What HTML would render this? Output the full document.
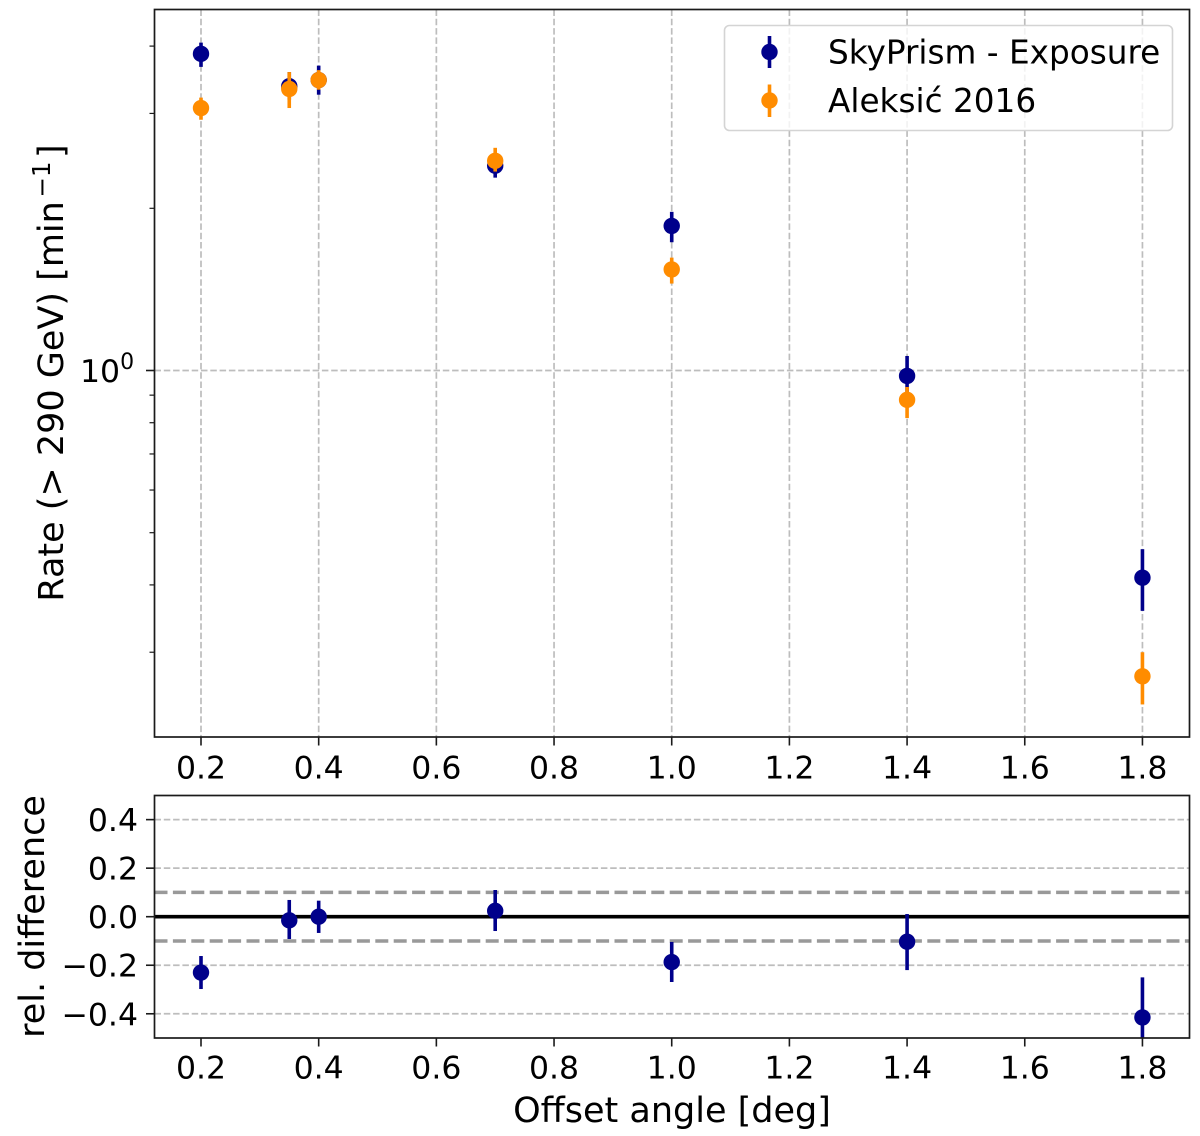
<!DOCTYPE html>
<html lang="en">
<head>
<meta charset="utf-8">
<title>Rate vs offset angle</title>
<style>
  html, body { margin: 0; padding: 0; background: #fff; }
  svg { display: block; }
  text { font-family: "DejaVu Sans", "Liberation Sans", sans-serif; fill: #000; }
  .tick-label { font-size: 31.5px; }
  .axis-title { font-size: 35px; }
  .legend-text { font-size: 32.7px; }
</style>
</head>
<body>
<svg id="chart" xmlns="http://www.w3.org/2000/svg" width="1200" height="1136" viewBox="0 0 1200 1136">
  <defs>
    <clipPath id="clip-main"><rect x="154.5" y="9.5" width="1035" height="727.5"></rect></clipPath>
    <clipPath id="clip-rel"><rect x="154.5" y="795.5" width="1035" height="242.5"></rect></clipPath>
  </defs>
  <g id="main-grid"></g>
  <g id="rel-grid"></g>
  <g id="main-marks" clip-path="url(#clip-main)"></g>
  <g id="rel-marks" clip-path="url(#clip-rel)"></g>
  <g id="ticks"></g>
  <rect x="154.5" y="9.5" width="1035" height="727.5" fill="none" stroke="#1a1a1a" stroke-width="1.7"></rect>
  <rect x="154.5" y="795.5" width="1035" height="242.5" fill="none" stroke="#1a1a1a" stroke-width="1.7"></rect>

  <g>
    <rect x="724.5" y="25.5" width="448" height="105" rx="5" ry="5" fill="#fff" fill-opacity="0.8" stroke="#d4d4d4" stroke-width="1.6"></rect>
    <g>
      <line x1="769.5" x2="769.5" y1="36" y2="68" stroke="#00008b" stroke-width="3.6"></line>
      <circle cx="769.5" cy="52" r="8.2" fill="#00008b"></circle>
      <text class="legend-text" x="828" y="63.5">SkyPrism - Exposure</text>
    </g>
    <g>
      <line x1="769.5" x2="769.5" y1="84.5" y2="117" stroke="#ff8c00" stroke-width="3.6"></line>
      <circle cx="769.5" cy="100.5" r="8.2" fill="#ff8c00"></circle>
      <text class="legend-text" x="828" y="112">Aleksić 2016</text>
    </g>
  </g>

  <text class="axis-title" text-anchor="middle" transform="translate(63,373) rotate(-90)">Rate (&gt; 290 GeV) [min<tspan dx="3.5" dy="-13" font-size="24.5">−1</tspan><tspan dx="3.5" dy="13">]</tspan></text>
  <text class="axis-title" text-anchor="middle" transform="translate(44,916.5) rotate(-90)">rel. difference</text>
  <text class="axis-title" text-anchor="middle" x="672" y="1122">Offset angle [deg]</text>
</svg>

<script>
// ---- data ----
const offsets = [0.2, 0.35, 0.4, 0.7, 1.0, 1.4, 1.8];
const skyRate = [3.87, 3.37, 3.46, 2.40, 1.855, 0.977, 0.4125];
const skyLow  = [3.66, 3.18, 3.25, 2.28, 1.73, 0.90, 0.358];
const skyHigh = [4.06, 3.58, 3.68, 2.52, 1.97, 1.064, 0.466];
const aleRate = [3.07, 3.33, 3.46, 2.45, 1.54, 0.882, 0.2707];
const aleLow  = [2.92, 3.07, 3.32, 2.34, 1.45, 0.816, 0.240];
const aleHigh = [3.21, 3.58, 3.61, 2.59, 1.62, 0.932, 0.300];
const relDiff = [-0.23, -0.015, 0.0, 0.024, -0.187, -0.103, -0.415];
const relLow  = [-0.298, -0.092, -0.067, -0.059, -0.269, -0.22, -0.60];
const relHigh = [-0.162, 0.069, 0.066, 0.11, -0.104, 0.011, -0.25];
const xTicks = [0.2, 0.4, 0.6, 0.8, 1.0, 1.2, 1.4, 1.6, 1.8];
const mainMinorTicks = [0.3, 0.4, 0.5, 0.6, 0.7, 0.8, 0.9, 2, 3, 4];
const relTicks = [0.4, 0.2, 0.0, -0.2, -0.4];
const relRefLines = [0.1, -0.1];

// ---- axis functions ----
const xScale = v => 201 + (v - 0.2) * 588.4;
const yMain = v => 370.5 - Math.log10(v) * 538.8;
const yRel = v => 916.7 - v * 242.7;

const NS = 'http://www.w3.org/2000/svg';
function make(tag, attrs, parent) {
  const n = document.createElementNS(NS, tag);
  for (const k in attrs) n.setAttribute(k, attrs[k]);
  parent.appendChild(n);
  return n;
}
const mainGrid = document.getElementById('main-grid');
const relGrid = document.getElementById('rel-grid');
const mainMarks = document.getElementById('main-marks');
const relMarks = document.getElementById('rel-marks');
const ticks = document.getElementById('ticks');
const GRID = { stroke: '#bdbdbd', 'stroke-width': 1.7, 'stroke-dasharray': '6.5 2.8' };

// grid + x ticks
xTicks.forEach(t => {
  const x = xScale(t);
  const g = make('line', Object.assign({ x1: x, x2: x, y1: 9.5, y2: 737 }, GRID), mainGrid);
  
  
  [[737, 778.5], [1038, 1078.5]].forEach(pair => {
    const tk = make('line', { x1: x, x2: x, y1: pair[0], y2: pair[0] + 8.5, stroke: '#1a1a1a', 'stroke-width': 1.6 }, ticks);
    
    
    const lb = make('text', { class: 'tick-label', x: x, y: pair[1], 'text-anchor': 'middle' }, ticks);
    
    
    lb.textContent = t.toFixed(1);
  });
});

// main y: major tick at 1
const majorY = yMain(1);
const majorGrid = make('line', Object.assign({ x1: 154.5, x2: 1189.5, y1: majorY, y2: majorY }, GRID), mainGrid);


const majorTick = make('line', { x1: 146, x2: 154.5, y1: majorY, y2: majorY, stroke: '#1a1a1a', 'stroke-width': 1.6 }, ticks);


const majorLabel = make('text', { class: 'tick-label', x: 80, y: majorY + 11.5 }, ticks);


majorLabel.textContent = '10';
const sup = make('tspan', { dy: -13, 'font-size': 22 }, majorLabel);
sup.textContent = '0';

mainMinorTicks.forEach(v => {
  const y = yMain(v);
  const tk = make('line', { x1: 149.5, x2: 154.5, y1: y, y2: y, stroke: '#1a1a1a', 'stroke-width': 1.2 }, ticks);
  
  
});

// difference y ticks and grid
relTicks.forEach(v => {
  const y = yRel(v);
  if (v !== 0) {
    const g = make('line', Object.assign({ x1: 154.5, x2: 1189.5, y1: y, y2: y }, GRID), relGrid);
    
    
  }
  const tk = make('line', { x1: 146, x2: 154.5, y1: y, y2: y, stroke: '#1a1a1a', 'stroke-width': 1.6 }, ticks);
  
  
  const lb = make('text', { class: 'tick-label', x: 138, y: y + 11.5, 'text-anchor': 'end' }, ticks);
  
  
  lb.textContent = v.toFixed(1).replace('-', '\u2212');
});

// reference lines
relRefLines.forEach(v => {
  const y = yRel(v);
  const l = make('line', { x1: 154.5, x2: 1189.5, y1: y, y2: y, stroke: '#999999', 'stroke-width': 3.5, 'stroke-dasharray': '13 5.4' }, relGrid);
  
  
});
const zero = make('line', { x1: 154.5, x2: 1189.5, y1: yRel(0), y2: yRel(0), stroke: '#000', 'stroke-width': 3.6 }, relGrid);



// points with error bars
function drawSeries(parent, yFn, vals, lows, highs, color, name) {
  vals.forEach((v, i) => {
    const x = xScale(offsets[i]);
    const bar = make('line', { x1: x, x2: x, y1: yFn(lows[i]), y2: yFn(highs[i]), stroke: color, 'stroke-width': 3.6 }, parent);
    
    
    const pt = make('circle', { cx: x, cy: yFn(v), r: 8.2, fill: color }, parent);
    
    
  });
}
drawSeries(mainMarks, yMain, skyRate, skyLow, skyHigh, '#00008b', 'skyprism');
drawSeries(mainMarks, yMain, aleRate, aleLow, aleHigh, '#ff8c00', 'aleksic');
drawSeries(relMarks, yRel, relDiff, relLow, relHigh, '#00008b', 'difference');
</script>
</body>
</html>
